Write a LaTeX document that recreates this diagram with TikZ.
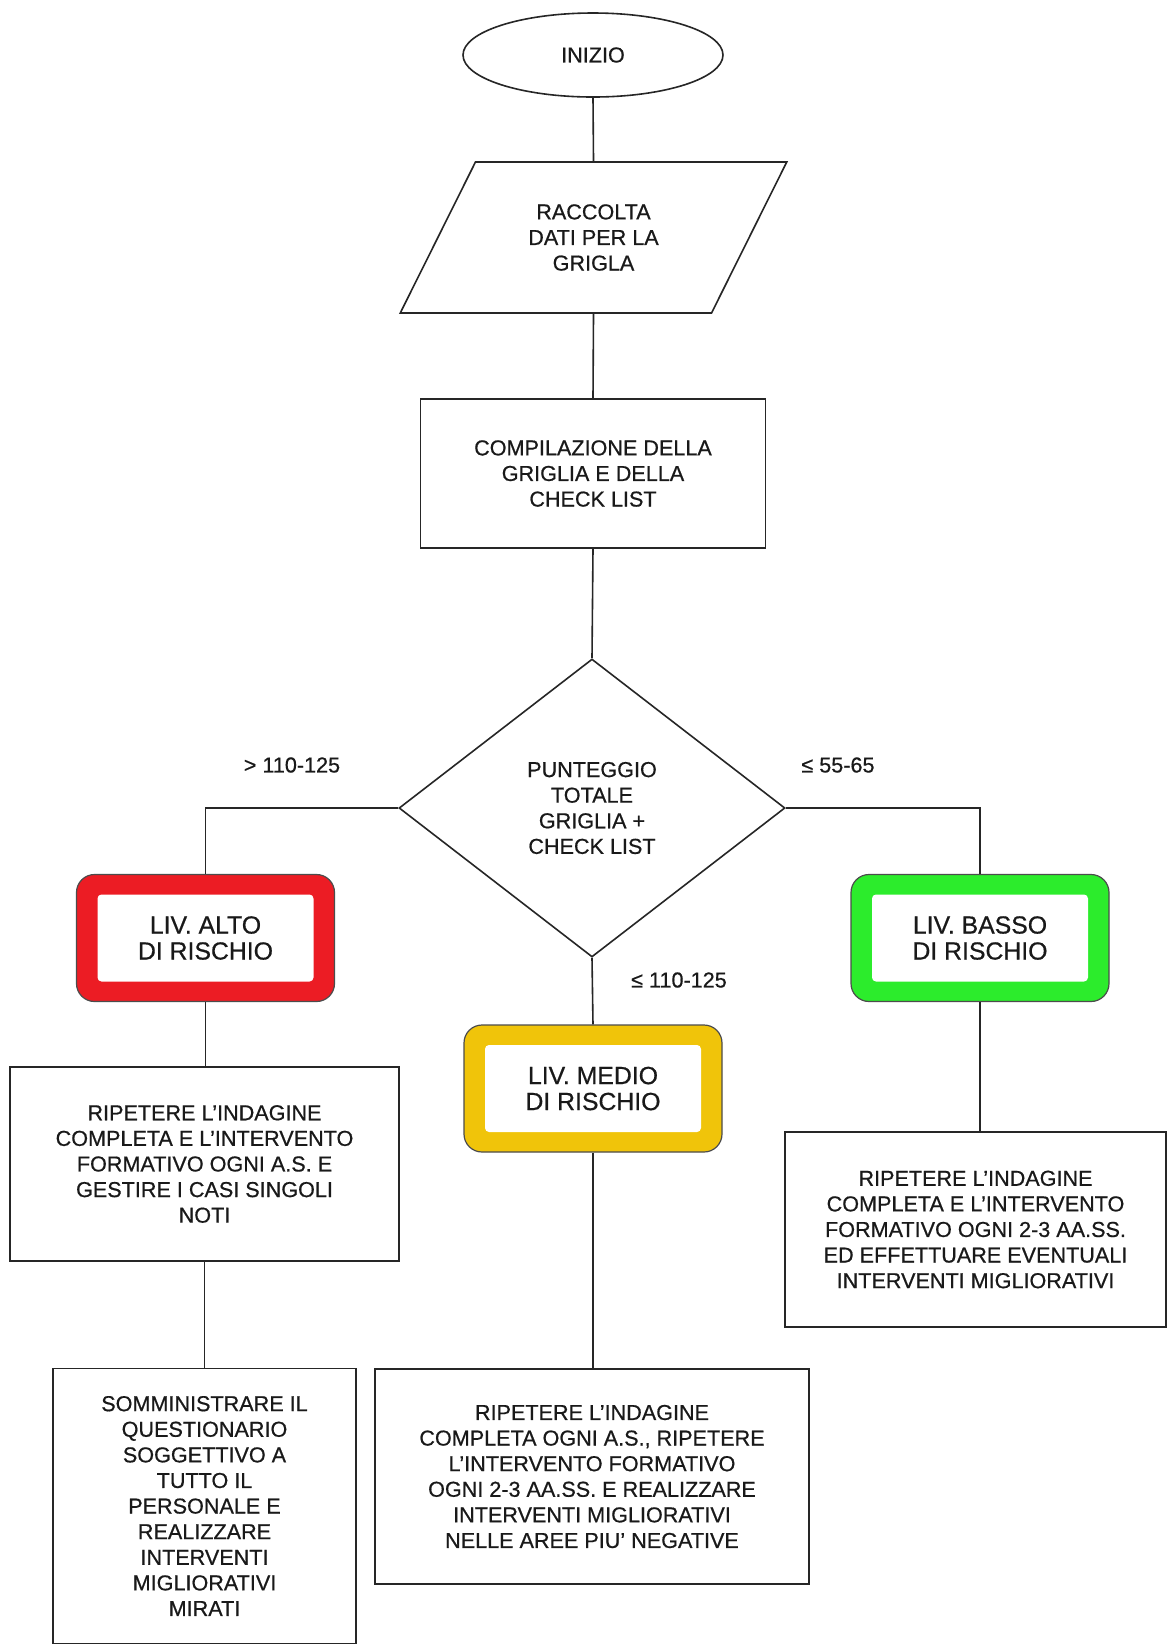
\documentclass[tikz,border=0pt]{standalone}
\usepackage{fontspec}
\setmainfont{Liberation Sans}[FakeBold=0.6]
\usetikzlibrary{shapes.geometric}
\definecolor{livrosso}{RGB}{236,28,36}
\definecolor{livgiallo}{RGB}{240,196,10}
\definecolor{livverde}{RGB}{44,236,44}

\begin{document}
\begin{tikzpicture}[x=0.5pt, y=-0.5pt,
  testo/.style={font=\fontsize{10.8}{12.8}\selectfont, align=center, text=black!90},
  blocco/.style={testo, draw=black!85, line width=0.8pt, inner sep=0pt},
  livello/.style={draw=black!70, line width=0.6pt, fill=#1, rounded corners=9pt, minimum width=129pt, minimum height=63.5pt, align=center, text=black!90, font=\fontsize{12.4}{13}\selectfont,
    path picture={\fill[white, rounded corners=2pt] ([xshift=10.5pt,yshift=-10pt]path picture bounding box.north west) rectangle ([xshift=-10.5pt,yshift=10pt]path picture bounding box.south east);}},
  linea/.style={draw=black!85, line width=0.8pt}]
  \path[use as bounding box, fill=white] (0,0) rectangle (1168,1646);

  \node[blocco, ellipse, minimum width=130pt, minimum height=42pt] (inizio) at (593,55) {INIZIO};
  \node[blocco, trapezium, trapezium left angle=58, trapezium right angle=122, trapezium stretches=true, minimum width=193.5pt, minimum height=75.5pt] (raccolta) at (593.5,237.5) {RACCOLTA\\DATI PER LA\\GRIGLA};
  \node[blocco, minimum width=172.5pt, minimum height=74.5pt] (compila) at (593,473.5) {COMPILAZIONE DELLA\\GRIGLIA E DELLA\\CHECK LIST};
  \node[blocco, diamond, aspect=1.3, minimum width=193pt, minimum height=149pt] (punteggio) at (592,808) {PUNTEGGIO\\TOTALE\\GRIGLIA +\\CHECK LIST};

  \node[testo] (sogliaalta) at (292,765) {> 110-125};
  \node[testo] (sogliabassa) at (838,765) {≤ 55-65};
  \node[testo] (sogliamedia) at (679,980) {≤ 110-125};

  \node[livello=livrosso] (alto) at (205.5,938) {LIV. ALTO\\DI RISCHIO};
  \node[livello=livgiallo] (medio) at (593,1088.5) {LIV. MEDIO\\DI RISCHIO};
  \node[livello=livverde] (basso) at (980,938) {LIV. BASSO\\DI RISCHIO};

  \node[blocco, minimum width=194.5pt, minimum height=97pt] (indagineA) at (204.5,1164) {RIPETERE L'INDAGINE\\COMPLETA E L'INTERVENTO\\FORMATIVO OGNI A.S. E\\GESTIRE I CASI SINGOLI\\NOTI};
  \node[blocco, minimum width=190.5pt, minimum height=97.5pt] (indagineB) at (975.5,1229.5) {RIPETERE L'INDAGINE\\COMPLETA E L'INTERVENTO\\FORMATIVO OGNI 2-3 AA.SS.\\ED EFFETTUARE EVENTUALI\\INTERVENTI MIGLIORATIVI};
  \node[blocco, minimum width=151.5pt, minimum height=137.5pt] (somministra) at (204.5,1506) {SOMMINISTRARE IL\\QUESTIONARIO\\SOGGETTIVO A\\TUTTO IL\\PERSONALE E\\REALIZZARE\\INTERVENTI\\MIGLIORATIVI\\MIRATI};
  \node[blocco, minimum width=217pt, minimum height=107.5pt] (indagineM) at (592,1476.5) {RIPETERE L'INDAGINE\\COMPLETA OGNI A.S., RIPETERE\\L'INTERVENTO FORMATIVO\\OGNI 2-3 AA.SS. E REALIZZARE\\INTERVENTI MIGLIORATIVI\\NELLE AREE PIU' NEGATIVE};

  \draw[linea] (inizio.south) -- (raccolta.north);
  \draw[linea] (raccolta.south) -- (compila.north);
  \draw[linea] (compila.south) -- (punteggio.north);
  \draw[linea] (punteggio.west) -| (alto.north);
  \draw[linea] (punteggio.east) -| (basso.north);
  \draw[linea] (punteggio.south) -- (medio.north);
  \draw[linea] (alto.south) -- (alto.south |- indagineA.north);
  \draw[linea] (indagineA.south) -- (indagineA.south |- somministra.north);
  \draw[linea] (basso.south) -- (basso.south |- indagineB.north);
  \draw[linea] (medio.south) -- (medio.south |- indagineM.north);
\end{tikzpicture}
\end{document}
